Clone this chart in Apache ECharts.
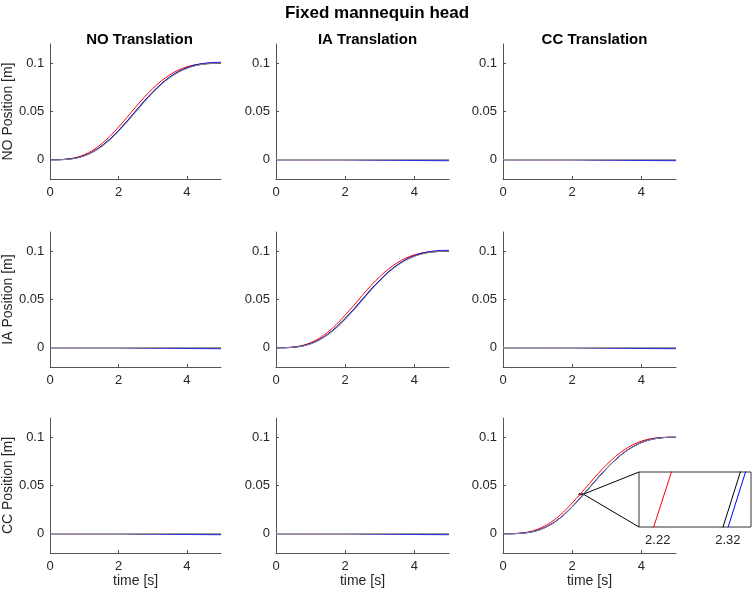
<!DOCTYPE html>
<html>
<head>
<meta charset="utf-8">
<script src="https://cdn.jsdelivr.net/npm/echarts@6/dist/echarts.min.js"></script>
<style>
  html, body { margin: 0; padding: 0; background: #fff; }
  #main { width: 754px; height: 593px; }
</style>
</head>
<body>
<div id="main"></div>
<script>
// time samples [s]
var time = [0, 0.25, 0.5, 0.75, 1, 1.25, 1.5, 1.75, 2, 2.25, 2.5, 2.75, 3, 3.25, 3.5, 3.75, 4, 4.25, 4.5, 4.75, 5];

// diagonal plots (NO / IA translation) [m]
var diagRed   = [0, 0.0001, 0.0007, 0.0022, 0.0052, 0.0098, 0.0162, 0.0243, 0.0338, 0.0440, 0.0545, 0.0646, 0.0737, 0.0816, 0.0880, 0.0929, 0.0963, 0.0985, 0.0996, 0.1000, 0.1000];
var diagBlack = [0, 0.0000, 0.0005, 0.0017, 0.0042, 0.0082, 0.0140, 0.0214, 0.0303, 0.0400, 0.0503, 0.0606, 0.0700, 0.0785, 0.0855, 0.0910, 0.0950, 0.0977, 0.0992, 0.0999, 0.1000];
var diagBlue  = [0, 0.0000, 0.0005, 0.0017, 0.0042, 0.0082, 0.0140, 0.0214, 0.0302, 0.0400, 0.0503, 0.0606, 0.0701, 0.0787, 0.0858, 0.0914, 0.0955, 0.0983, 0.0999, 0.1008, 0.1010];
var diagGrey  = [0, 0.0000, 0.0004, 0.0015, 0.0039, 0.0078, 0.0134, 0.0206, 0.0294, 0.0390, 0.0492, 0.0596, 0.0692, 0.0778, 0.0850, 0.0906, 0.0947, 0.0975, 0.0991, 0.0998, 0.1000];

// CC translation, CC position
var ccRed   = [0, 0.0001, 0.0006, 0.0019, 0.0046, 0.0088, 0.0148, 0.0226, 0.0318, 0.0418, 0.0522, 0.0624, 0.0718, 0.0800, 0.0869, 0.0922, 0.0960, 0.0984, 0.0996, 0.1000, 0.1000];
var ccBlack = [0, 0.0000, 0.0004, 0.0014, 0.0035, 0.0071, 0.0124, 0.0194, 0.0281, 0.0378, 0.0480, 0.0583, 0.0681, 0.0768, 0.0843, 0.0901, 0.0946, 0.0975, 0.0992, 0.0999, 0.1000];
var ccBlue  = [0, 0.0000, 0.0004, 0.0014, 0.0034, 0.0070, 0.0122, 0.0192, 0.0278, 0.0375, 0.0477, 0.0580, 0.0679, 0.0767, 0.0842, 0.0901, 0.0946, 0.0975, 0.0992, 0.0999, 0.1000];
var ccGrey  = [0, 0.0000, 0.0004, 0.0013, 0.0033, 0.0068, 0.0120, 0.0190, 0.0276, 0.0373, 0.0475, 0.0578, 0.0677, 0.0765, 0.0840, 0.0899, 0.0945, 0.0974, 0.0991, 0.0999, 0.1000];

// off-diagonal plots (cross talk, near zero)
var offRed   = [0, 0, 0, 0, 0, 0, 0, 0, 0, 0, 0, 0, 0, 0, 0, 0, 0, 0, 0, 0, 0];
var offBlack = [0, 0, 0, 0, 0, 0, 0, 0, 0, 0, -0.0001, -0.0001, -0.0001, -0.0001, -0.0002, -0.0002, -0.0002, -0.0002, -0.0003, -0.0003, -0.0003];
var offBlue  = [0, 0, 0, 0, 0, 0, 0, 0, 0, -0.0001, -0.0002, -0.0003, -0.0004, -0.0005, -0.0006, -0.0007, -0.0008, -0.0009, -0.0009, -0.0010, -0.0010];
var offGrey  = [0, 0, 0, 0, 0, 0, 0, 0, 0, 0, 0, 0, 0, 0, 0, 0, 0, 0, 0, 0, 0];

var colTitles = ['NO Translation', 'IA Translation', 'CC Translation'];
var rowNames = ['NO Position [m]', 'IA Position [m]', 'CC Position [m]'];
var xTicks = [0, 2, 4];
var yTicks = [0, 0.05, 0.1];
var insetTicks = [2.22, 2.32];
var insetRange = [2.1933, 2.3529];
var insetY = [0.04037, 0.04138];

var colLeft = [48, 276, 503];
var rowTop = [44, 232, 418];
var gw = 173, gh = 135;
var axisColor = '#555';
var textColor = '#262626';
var font = 'Liberation Sans, Arial, Helvetica, sans-serif';

function pairs(ys) {
    return time.map(function (t, i) { return [t, ys[i]]; });
}

var grids = [], xAxes = [], yAxes = [], series = [];
var titles = [{
    text: 'Fixed mannequin head', left: 'center', top: 0,
    textStyle: { fontSize: 17, fontWeight: 'bold', color: '#000', fontFamily: font }
}];
colTitles.forEach(function (t, c) {
    titles.push({
        text: t, left: colLeft[c] + gw / 2, top: 27, textAlign: 'center',
        textStyle: { fontSize: 15, fontWeight: 'bold', color: '#000', fontFamily: font }
    });
});

for (var r = 0; r < 3; r++) {
    for (var c = 0; c < 3; c++) {
        var gi = grids.length;
        grids.push({ left: colLeft[c], top: rowTop[r], width: gw, height: gh });
        xAxes.push({
            type: 'value', gridIndex: gi, min: 0, max: 5,
            name: r === 2 ? 'time [s]' : '', nameLocation: 'middle', nameGap: 21,
            nameTextStyle: { fontSize: 14, color: textColor, fontFamily: font },
            axisLine: { show: true, onZero: false, lineStyle: { color: axisColor } },
            axisTick: { inside: true, length: 3, customValues: xTicks, lineStyle: { color: axisColor } },
            axisLabel: { customValues: xTicks, color: textColor, fontSize: 13, margin: 7, fontFamily: font },
            splitLine: { show: false }
        });
        yAxes.push({
            type: 'value', gridIndex: gi, min: -0.02, max: 0.12,
            name: c === 0 ? rowNames[r] : '', nameLocation: 'middle', nameGap: 33,
            nameTextStyle: { fontSize: 14, color: textColor, fontFamily: font },
            axisLine: { show: true, onZero: false, lineStyle: { color: axisColor } },
            axisTick: { inside: true, length: 3, customValues: yTicks, lineStyle: { color: axisColor } },
            axisLabel: { customValues: yTicks, color: textColor, fontSize: 13, margin: 6, fontFamily: font },
            splitLine: { show: false }
        });
        var isDiag = r === c;
        var set;
        if (isDiag && r < 2) set = [diagRed, diagBlack, diagBlue, diagGrey];
        else if (isDiag) set = [ccRed, ccBlack, ccBlue, ccGrey];
        else set = [offRed, offBlack, offBlue, offGrey];
        var cols = ['#ff0000', '#000000', '#0000ff', isDiag ? '#8c8c8c' : '#9a9a9a'];
        set.forEach(function (ys, k) {
            var s = {
                type: 'line', xAxisIndex: gi, yAxisIndex: gi, data: pairs(ys),
                showSymbol: false, smooth: 0.3, animation: false, silent: true,
                lineStyle: { color: cols[k], width: (!isDiag && k === 3) ? 1.3 : 1 }
            };
            if (r === 2 && c === 2 && k === 1) {
                s.markArea = {
                    silent: true,
                    itemStyle: { color: 'rgba(0,0,0,0)', borderColor: '#000', borderWidth: 1 },
                    data: [[{ coord: [insetRange[0], insetY[0]] }, { coord: [insetRange[1], insetY[1]] }]]
                };
            }
            series.push(s);
        });
    }
}

// zoom inset
var insetIdx = grids.length;
grids.push({
    left: 639, top: 472, width: 112, height: 55, show: true,
    backgroundColor: '#fff', borderColor: '#333', borderWidth: 1, z: 5
});
xAxes.push({
    type: 'value', gridIndex: insetIdx, min: insetRange[0], max: insetRange[1],
    axisLine: { show: false },
    axisTick: { inside: true, length: 2, customValues: insetTicks, lineStyle: { color: axisColor } },
    axisLabel: { customValues: insetTicks, color: textColor, fontSize: 13, margin: 7, fontFamily: font },
    splitLine: { show: false }
});
yAxes.push({
    type: 'value', gridIndex: insetIdx, min: insetY[0], max: insetY[1],
    axisLine: { show: false }, axisTick: { show: false }, axisLabel: { show: false },
    splitLine: { show: false }
});
[[ccRed, '#ff0000'], [ccBlack, '#000000'], [ccBlue, '#0000ff']].forEach(function (p) {
    series.push({
        type: 'line', xAxisIndex: insetIdx, yAxisIndex: insetIdx, data: pairs(p[0]),
        showSymbol: false, animation: false, silent: true, clip: true, z: 6,
        lineStyle: { color: p[1], width: 1 }
    });
});

var chart = echarts.init(document.getElementById('main'));
chart.setOption({
    animation: false,
    title: titles,
    grid: grids,
    xAxis: xAxes,
    yAxis: yAxes,
    series: series
});

// connector lines from the zoomed region to the inset box
var a1 = chart.convertToPixel({ gridIndex: 8 }, [insetRange[1], insetY[1]]);
var a2 = chart.convertToPixel({ gridIndex: 8 }, [insetRange[1], insetY[0]]);
var b1 = chart.convertToPixel({ gridIndex: insetIdx }, [insetRange[0], insetY[1]]);
var b2 = chart.convertToPixel({ gridIndex: insetIdx }, [insetRange[0], insetY[0]]);
chart.setOption({
    graphic: [
        { type: 'line', shape: { x1: a1[0], y1: a1[1], x2: b1[0], y2: b1[1] }, style: { stroke: '#000', lineWidth: 1 }, z: 10 },
        { type: 'line', shape: { x1: a2[0], y1: a2[1], x2: b2[0], y2: b2[1] }, style: { stroke: '#000', lineWidth: 1 }, z: 10 }
    ]
});
</script>
</body>
</html>
